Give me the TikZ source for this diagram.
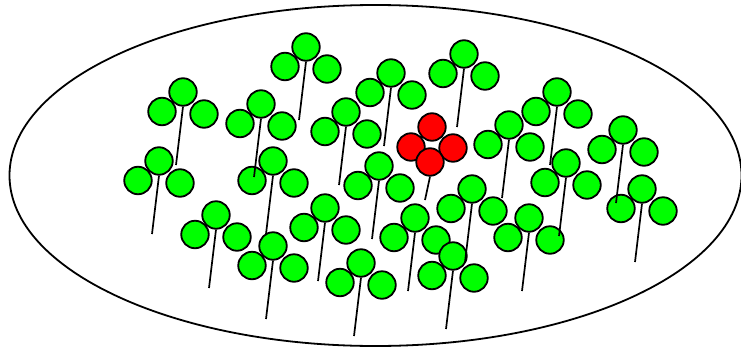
\documentclass[tikz,border=0pt]{standalone}
\usepackage{tikz}
\usetikzlibrary{positioning,calc}
\definecolor{leafgreen}{RGB}{0,255,0}
\definecolor{budred}{RGB}{255,0,0}

\begin{document}
\begin{tikzpicture}[x=1pt,y=-1pt,
  leaf/.style={circle,draw=black,fill=leafgreen,line width=1.8pt,inner sep=0pt,minimum size=27.5pt},
  bud/.style={leaf,fill=budred},
  stalk/.style={black,line width=1.7pt}]
  \useasboundingbox (0,0) rectangle (741,348);
  \draw[line width=1.8pt] (375.5,175.5) ellipse [x radius=366, y radius=170.5];
  \foreach \x/\y [count=\i] in {306/47,464/54,391/73,183/92,557/92,261/104,346/112,509/125,
      623/130,159/161,273/161,566/163,379/166,472/189,642/189,325/208,216/215,415/218,
      529/218,273/246,453/256,361/263}{
    \node[leaf] (l\i) at (\x-21,\y+19.5) {};
    \node[leaf] (r\i) at (\x+21,\y+22) {};
    \node[leaf] (t\i) at (\x,\y) {};
    \coordinate (e\i) at (\x-7,\y+73);
  }
  \node[bud] (rl) at (411,147) {}; \node[bud] (rr) at (453,148) {};
  \node[bud] (rt) at (432,127) {}; \node[bud] (rb) at (430,162) {};
  \coordinate (re) at (425,200);
  \foreach \i in {1,...,22}{
    \draw[stalk] (t\i.south) -- (e\i);
  }
  \draw[stalk] (rb.south) -- (re);
\end{tikzpicture}
\end{document}
